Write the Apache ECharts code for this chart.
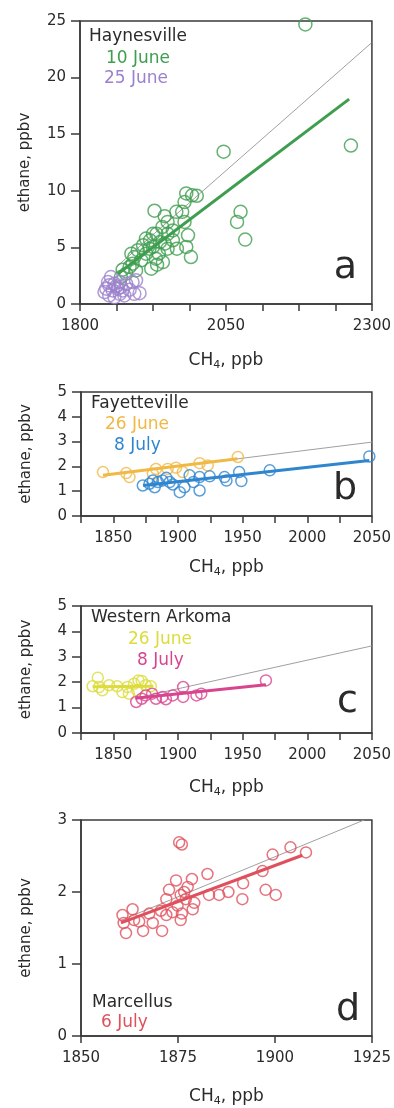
<!DOCTYPE html>
<html>
<head>
<meta charset="utf-8">
<script src="https://cdn.jsdelivr.net/npm/echarts@6/dist/echarts.min.js"></script>
<style>html,body{margin:0;padding:0;background:#fff}#c{width:394px;height:1108px}</style>
</head>
<body>
<div id="c"></div>
<script>
// ---------- DATA ----------
const hayJune10 = [[1873,3.03],[1870,2.38],[1879,2.68],[1885,3.27],[1888,4.45],[1890,3.56],[1893,4.15],[1896,2.97],[1899,4.75],[1905,3.86],[1908,5.19],[1913,5.78],[1913,4.45],[1919,4.89],[1920,5.63],[1922,3.12],[1925,6.2],[1925,5.04],[1927.6,8.24],[1930,4.0],[1931,6.2],[1932,3.47],[1935,4.45],[1937,5.48],[1941,6.8],[1942,3.7],[1945,7.76],[1945,5.33],[1950,7.25],[1950,6.2],[1950,4.89],[1959,6.5],[1959,5.63],[1965,8.14],[1966,4.89],[1975,8.14],[1979,9.0],[1979,7.25],[1982,9.77],[1982,5.04],[1985,6.07],[1990,4.15],[1992,9.6],[2000,9.56],[2046,13.46],[2069,7.25],[2075,8.14],[2083,5.69],[2186,24.7],[2264,14.0]];
const hayJune25 = [[1853,2.38],[1848,1.94],[1859,1.79],[1868,1.94],[1879,1.79],[1890,1.94],[1896,2.09],[1845,1.35],[1856,1.2],[1865,1.35],[1873,1.2],[1885,1.26],[1902,0.96],[1893,0.9],[1850,0.76],[1859,0.6],[1868,0.9],[1876,0.76],[1842,1.05],[1862,1.56],[1870,1.5],[1850,1.65]];
const hayFit10 = [[1865,2.67],[2261,18.1]];
const hayRef = [[1865,3.4],[2299,23.06]];

const fayJune26 = [[1842,1.77],[1860,1.73],[1862.5,1.57],[1880.6,1.7],[1883,1.9],[1892,1.9],[1898.5,1.95],[1903.7,1.77],[1916.7,2.13],[1923,2.04],[1946.3,2.38]];
const fayJuly8 = [[1872.8,1.23],[1878,1.3],[1880.6,1.43],[1882,1.16],[1884.5,1.37],[1888,1.43],[1891,1.54],[1893.6,1.37],[1896,1.27],[1901.4,0.96],[1905,1.16],[1909,1.64],[1912,1.37],[1916.7,1.57],[1916.7,1.03],[1924.5,1.6],[1936,1.57],[1937.5,1.43],[1947.3,1.77],[1949,1.41],[1971,1.84],[2048,2.4]];
const fayFit26 = [[1842,1.64],[1946,2.31]];
const fayFit8 = [[1873,1.23],[2048,2.24]];
const fayRef = [[1842,1.63],[2050,2.98]];

const arkJune26 = [[1838,2.18],[1834,1.84],[1839,1.81],[1841.5,1.68],[1846.7,1.88],[1853,1.84],[1857,1.61],[1861,1.81],[1862,1.55],[1866,1.94],[1868.5,1.68],[1869.5,2.07],[1872,2.05],[1875,1.88],[1879,1.84]];
const arkJuly8 = [[1867.7,1.22],[1872,1.35],[1875,1.48],[1880,1.55],[1883,1.35],[1888,1.42],[1890.7,1.33],[1896,1.48],[1904,1.81],[1904,1.42],[1914.3,1.48],[1918,1.55],[1968,2.07]];
const arkFit26 = [[1834,1.82],[1881,1.84]];
const arkFit8 = [[1867,1.37],[1968,1.9]];
const arkRef = [[1867,1.37],[2050,3.43]];

const marJuly6 = [[1875.3,2.69],[1876,2.66],[1860.7,1.68],[1861,1.57],[1861.6,1.43],[1863.3,1.76],[1863.7,1.61],[1865,1.59],[1866,1.46],[1867.6,1.7],[1868.5,1.57],[1870.6,1.74],[1870.9,1.46],[1872,1.68],[1872,1.9],[1872.7,2.03],[1873.6,1.72],[1874.5,2.16],[1874.9,1.81],[1875.7,1.61],[1875.7,1.96],[1876,1.7],[1876.6,2.0],[1877,1.9],[1877.5,2.07],[1878.6,2.18],[1878.8,1.76],[1879.2,1.85],[1882.6,2.25],[1883,1.96],[1885.6,1.96],[1888,2.0],[1891.6,1.9],[1891.8,2.12],[1896.8,2.29],[1897.6,2.03],[1899.4,2.52],[1900.2,1.96],[1904,2.62],[1908,2.55]];
const marFit6 = [[1860.3,1.57],[1907.1,2.51]];
const marRef = [[1860,1.6],[1923,3.0]];

// tick values
const xTicksA = [1800,1862.5,1925,1987.5,2050,2112.5,2175,2237.5,2300];
const xLabelsA = [1800,2050,2300];
const xTicksBC = [1825,1850,1875,1900,1925,1950,1975,2000,2025,2050];
const xLabelsBC = [1850,1900,1950,2000,2050];
const xTicksD = [1850,1875,1900,1925];
const xLabelsD = [1850,1875,1900,1925];

// ---------- STYLE ----------
const FONT = 'DejaVu Sans';
const AX = '#3a3a3a';
const C = {green:'#3f9d4f', purple:'#9c82cc', orange:'#f0b845', blue:'#2f86cf', yellow:'#dcdc3c', pink:'#d8458e', red:'#e0505c', ref:'#a0a0a0', text:'#2a2a2a'};

const grids = [
  {left:80, top:21, width:292, height:283},
  {left:81, top:392, width:291, height:124},
  {left:81, top:606, width:291, height:127},
  {left:81, top:820, width:292, height:227}
].map(g => Object.assign(g, {show:true, borderColor:AX, borderWidth:1.5, backgroundColor:'transparent', containLabel:false}));

function xAx(i, min, max, ticks, labels, gap){
  return {
    type:'value', gridIndex:i, min, max,
    axisLine:{show:true, onZero:false, lineStyle:{color:AX, width:1.5}},
    axisTick:{show:true, inside:false, length:7, customValues:ticks, lineStyle:{color:AX, width:1.5}},
    axisLabel:{customValues:labels, margin:15, fontSize:15, color:C.text, fontFamily:FONT, formatter:v => String(v)},
    splitLine:{show:false},
    name:'{a|CH}{s|4}{a|, ppb}', nameLocation:'middle', nameGap:gap,
    nameTextStyle:{rich:{a:{fontSize:17, fontFamily:FONT, color:C.text}, s:{fontSize:11, fontFamily:FONT, color:C.text, padding:[10,0,0,0]}}}
  };
}
function yAx(i, max, interval){
  return {
    type:'value', gridIndex:i, min:0, max, interval,
    axisLine:{show:true, onZero:false, lineStyle:{color:AX, width:1.5}},
    axisTick:{show:true, inside:false, length:9, lineStyle:{color:AX, width:1.5}},
    axisLabel:{margin:14, fontSize:15, color:C.text, fontFamily:FONT, formatter:v => String(v)},
    splitLine:{show:false},
    name:'ethane, ppbv', nameLocation:'middle', nameGap:47, nameRotate:90,
    nameTextStyle:{fontSize:15, fontFamily:FONT, color:C.text}
  };
}

function pts(i, data, color, size){
  return {type:'scatter', xAxisIndex:i, yAxisIndex:i, data, symbol:'circle', symbolSize:size, z:3,
    itemStyle:{color:'rgba(255,255,255,0)', borderColor:color, borderWidth:1.5}, silent:true};
}
function ln(i, data, color, width, z){
  return {type:'line', xAxisIndex:i, yAxisIndex:i, data, showSymbol:false, symbol:'none', z:z,
    lineStyle:{color, width}, silent:true};
}

function txt(x, y, s, color, size, align){
  return {type:'text', x, y, style:{text:s, fill:color, font:size+'px "'+FONT+'"', align:align||'left', verticalAlign:'middle'}, z:100};
}

const option = {
  animation:false,
  backgroundColor:'#fff',
  grid: grids,
  xAxis:[xAx(0,1800,2300,xTicksA,xLabelsA,46), xAx(1,1825,2050,xTicksBC,xLabelsBC,41), xAx(2,1825,2050,xTicksBC,xLabelsBC,44), xAx(3,1850,1925,xTicksD,xLabelsD,50)],
  yAxis:[yAx(0,25,5), yAx(1,5,1), yAx(2,5,1), yAx(3,3,1)],
  series:[
    ln(0, hayRef, C.ref, 1, 2),
    pts(0, hayJune10, C.green, 13),
    pts(0, hayJune25, C.purple, 13),
    ln(0, hayFit10, C.green, 3, 4),

    ln(1, fayRef, C.ref, 1, 2),
    pts(1, fayJune26, C.orange, 11),
    pts(1, fayJuly8, C.blue, 11),
    ln(1, fayFit26, C.orange, 3, 4),
    ln(1, fayFit8, C.blue, 3, 4),

    ln(2, arkRef, C.ref, 1, 2),
    pts(2, arkJune26, C.yellow, 11),
    pts(2, arkJuly8, C.pink, 11),
    ln(2, arkFit26, C.yellow, 3, 4),
    ln(2, arkFit8, C.pink, 3, 4),

    ln(3, marRef, C.ref, 1, 2),
    pts(3, marJuly6, C.red, 11),
    ln(3, marFit6, C.red, 3, 4)
  ],
  graphic:[
    txt(89, 37, 'Haynesville', C.text, 17),
    txt(106, 59, '10 June', C.green, 17),
    txt(104, 79, '25 June', C.purple, 17),
    txt(357, 268, 'a', C.text, 38, 'right'),

    txt(91, 404, 'Fayetteville', C.text, 17),
    txt(105, 425, '26 June', C.orange, 17),
    txt(114, 446, '8 July', C.blue, 17),
    txt(357, 489, 'b', C.text, 38, 'right'),

    txt(91, 618, 'Western Arkoma', C.text, 17),
    txt(128, 640, '26 June', C.yellow, 17),
    txt(137, 661, '8 July', C.pink, 17),
    txt(358, 702, 'c', C.text, 38, 'right'),

    txt(92, 1003, 'Marcellus', C.text, 17),
    txt(101, 1023, '6 July', C.red, 17),
    txt(360, 1010, 'd', C.text, 38, 'right')
  ]
};
const chart = echarts.init(document.getElementById('c'), null, {renderer:'canvas'});
chart.setOption(option);
</script>
</body>
</html>
